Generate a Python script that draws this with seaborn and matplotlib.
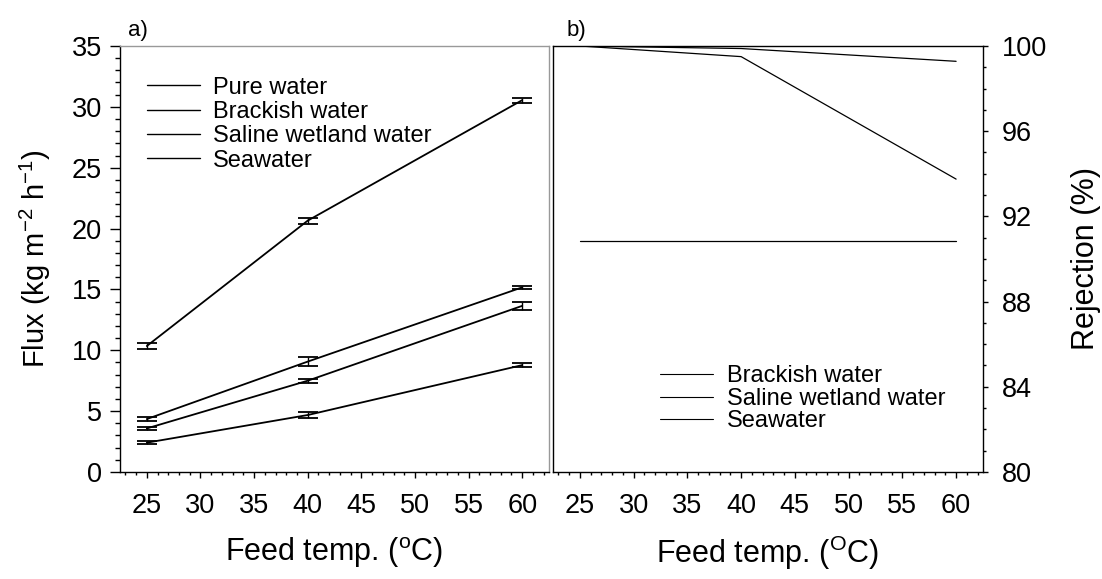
import numpy as np
import pandas as pd
import matplotlib
matplotlib.use("Agg")
import matplotlib.pyplot as plt
from matplotlib.ticker import MultipleLocator
import seaborn as sns

temps = [25, 40, 60]
flux_series = ["Pure water", "Brackish water", "Saline wetland water", "Seawater"]
flux_pure = [10.35, 20.65, 30.55]
flux_brackish = [4.35, 9.07, 15.17]
flux_saline = [3.58, 7.5, 13.65]
flux_sea = [2.41, 4.68, 8.78]
err_pure = [0.25, 0.25, 0.2]
err_brackish = [0.15, 0.35, 0.15]
err_saline = [0.15, 0.15, 0.35]
err_sea = [0.15, 0.25, 0.15]

rej_series = ["Brackish water", "Saline wetland water", "Seawater"]
rej_brackish = [90.85, 90.85, 90.85]
rej_saline = [100.0, 99.5, 93.75]
rej_sea = [100.0, 99.88, 99.28]

sns.set_style("ticks")
plt.rcParams['font.family'] = ['Liberation Sans', 'DejaVu Sans']
plt.rcParams['mathtext.fontset'] = 'custom'
plt.rcParams['mathtext.rm'] = 'Liberation Sans'
plt.rcParams['mathtext.it'] = 'Liberation Sans'
plt.rcParams['mathtext.default'] = 'regular'
for key in ['text.color', 'axes.labelcolor', 'xtick.color', 'ytick.color',
            'axes.edgecolor']:
    plt.rcParams[key] = 'black'

flux_vals = [flux_pure, flux_brackish, flux_saline, flux_sea]
flux_errs = [err_pure, err_brackish, err_saline, err_sea]
df_a = pd.DataFrame([
    {"temp": t, "flux": v, "err": e, "series": s}
    for s, vals, errs in zip(flux_series, flux_vals, flux_errs)
    for t, v, e in zip(temps, vals, errs)
])
rej_vals = [rej_brackish, rej_saline, rej_sea]
df_b = pd.DataFrame([
    {"temp": t, "rej": v, "series": s}
    for s, vals in zip(rej_series, rej_vals)
    for t, v in zip(temps, vals)
])

fig = plt.figure(figsize=(11.02, 5.79), dpi=100)
ax1 = fig.add_axes([0.1089, 0.1848, 0.3893, 0.7358])
ax2 = fig.add_axes([0.5018, 0.1848, 0.3902, 0.7358])

black = "#000000"
sns.lineplot(data=df_a, x="temp", y="flux", hue="series", hue_order=flux_series,
             palette=[black]*4, ax=ax1, linewidth=1.3, legend=True)
ax1.errorbar(df_a["temp"], df_a["flux"], yerr=df_a["err"], fmt="none",
             ecolor=black, elinewidth=1.0, capsize=7, capthick=1.3)

sns.lineplot(data=df_b, x="temp", y="rej", hue="series", hue_order=rej_series,
             palette=[black]*3, ax=ax2, linewidth=0.9, legend=True)

fs_tick = 19.5
fs_lab = 22
fs_leg = 17

# Panel a
ax1.set_xlim(22.5, 62.5)
ax1.set_ylim(0, 35)
ax1.xaxis.set_major_locator(MultipleLocator(5))
ax1.xaxis.set_minor_locator(MultipleLocator(1))
ax1.yaxis.set_major_locator(MultipleLocator(5))
ax1.yaxis.set_minor_locator(MultipleLocator(1))
ax1.tick_params(axis="x", which="major", direction="out", length=4.3, width=1,
                labelsize=fs_tick, pad=11)
ax1.tick_params(axis="x", which="minor", direction="out", length=2.2, width=1)
ax1.tick_params(axis="y", which="major", direction="out", length=7, width=1,
                labelsize=fs_tick, pad=6)
ax1.tick_params(axis="y", which="minor", direction="out", length=3.8, width=1)
ax1.tick_params(axis="x", which="both", top=False)
ax1.tick_params(axis="y", which="both", right=False)
for side in ["left", "bottom"]:
    ax1.spines[side].set_color(black)
    ax1.spines[side].set_linewidth(1.0)
for side in ["top", "right"]:
    ax1.spines[side].set_color("#999999")
    ax1.spines[side].set_linewidth(1.0)
ax1.set_xlabel("Feed temp. ($^{o}$C)", fontsize=fs_lab, va="center")
ax1.xaxis.set_label_coords(0.5, -0.19)
ax1.set_ylabel("Flux (kg m$^{-2}$ h$^{-1}$)", fontsize=fs_lab - 1, va="center")
ax1.yaxis.set_label_coords(-0.198, 0.5)
ax1.text(0.018, 1.012, "a)", transform=ax1.transAxes, fontsize=16,
         ha="left", va="bottom")
leg1 = ax1.legend(loc="upper left", bbox_to_anchor=(0.063, 0.928), frameon=False,
                  fontsize=fs_leg, handlelength=2.25, handletextpad=0.55,
                  labelspacing=0.1, borderpad=0, borderaxespad=0, title=None)
for h in leg1.get_lines():
    h.set_linewidth(1.0)

# Panel b
ax2.set_xlim(22.5, 62.5)
ax2.set_ylim(80, 100)
ax2.xaxis.set_major_locator(MultipleLocator(5))
ax2.xaxis.set_minor_locator(MultipleLocator(1))
ax2.yaxis.set_major_locator(MultipleLocator(4))
ax2.yaxis.set_minor_locator(MultipleLocator(1))
ax2.yaxis.tick_right()
ax2.yaxis.set_label_position("right")
ax2.tick_params(axis="x", which="major", direction="out", length=4.3, width=1,
                labelsize=fs_tick, pad=11)
ax2.tick_params(axis="x", which="minor", direction="out", length=2.2, width=1)
ax2.tick_params(axis="y", which="major", direction="out", length=3.5, width=1,
                labelsize=fs_tick, pad=10)
ax2.tick_params(axis="y", which="minor", direction="out", length=2.0, width=1)
ax2.tick_params(axis="x", which="both", top=False)
ax2.tick_params(axis="y", which="both", left=False, right=True)
for side in ["left", "bottom", "top", "right"]:
    ax2.spines[side].set_color(black)
    ax2.spines[side].set_linewidth(1.0)
ax2.set_xlabel("Feed temp. ($^{O}$C)", fontsize=fs_lab, va="center")
ax2.xaxis.set_label_coords(0.5, -0.19)
ax2.set_ylabel("Rejection (%)", fontsize=fs_lab, va="center", rotation=90)
ax2.yaxis.set_label_coords(1.24, 0.5)
ax2.text(0.032, 1.012, "b)", transform=ax2.transAxes, fontsize=16,
         ha="left", va="bottom")
leg2 = ax2.legend(loc="upper left", bbox_to_anchor=(0.249, 0.25), frameon=False,
                  fontsize=fs_leg, handlelength=2.25, handletextpad=0.6,
                  labelspacing=0.02, borderpad=0, borderaxespad=0, title=None)
for h in leg2.get_lines():
    h.set_linewidth(0.8)

fig.savefig("out.png", dpi=100)
